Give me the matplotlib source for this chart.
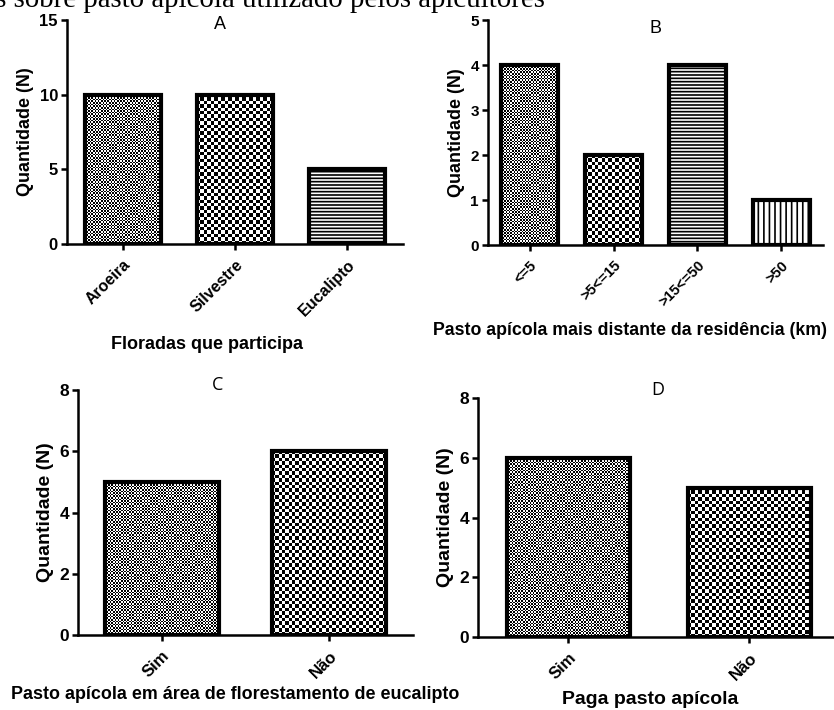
import numpy as np
import matplotlib
matplotlib.use("Agg")
import matplotlib.pyplot as plt

plt.rcParams['font.family'] = ['Liberation Sans', 'DejaVu Sans']
plt.rcParams['hatch.linewidth'] = 1.2

# data
cat_a = ["Aroeira", "Silvestre", "Eucalipto"]
val_a = [10, 10, 5]
cat_b = ["<=5", ">5<=15", ">15<=50", ">50"]
val_b = [4, 2, 4, 1]
cat_c = ["Sim", "Não"]
val_c = [5, 6]
cat_d = ["Sim", "Não"]
val_d = [6, 5]

# fill style per bar: fine checker, coarse checker, hatch
fill_a = ["fine", "coarse", "-----"]
fill_b = ["fine", "coarse", "-----", "|||"]
fill_c = ["fine", "coarse"]
fill_d = ["fine", "coarse"]

fig = plt.figure(figsize=(8.34, 7.10), dpi=100)

fig.text(545/834, 1 - 7/710, "Informações sobre pasto apícola utilizado pelos apicultores",
         ha='right', va='baseline', family='Liberation Serif', fontsize=20.8)


def checker(ax, patch, cell):
    bb = patch.get_window_extent()
    nx = max(1, int(round(bb.width / cell)))
    ny = max(1, int(round(bb.height / cell)))
    arr = np.add.outer(np.arange(ny), np.arange(nx)) % 2
    x0, y0 = patch.get_x(), patch.get_y()
    im = ax.imshow(arr, cmap='gray', vmin=0, vmax=1,
                   extent=(x0, x0 + patch.get_width(), y0, y0 + patch.get_height()),
                   interpolation='nearest', aspect='auto', zorder=1)
    im.set_clip_path(patch)


def panel(rect, cats, vals, fills, ymax, yticks, letter, xlabel,
          tick_fs, lab_fs, ylab_fs, letter_pos, letter_family, lab_x, lab_pad):
    ax = fig.add_axes(rect)
    x = np.arange(len(cats))
    ax.set_xlim(-0.5, len(cats) - 0.5)
    ax.set_ylim(0, ymax)
    bars = ax.bar(x, vals, width=0.68, facecolor='white', edgecolor='black',
                  linewidth=3, zorder=3)
    for b, f in zip(bars, fills):
        if f == "fine":
            b.set_facecolor('none')
            checker(ax, b, 1.6)
        elif f == "coarse":
            b.set_facecolor('none')
            checker(ax, b, 3.4)
        else:
            b.set_hatch(f)
    ax.set_xlim(-0.5, len(cats) - 0.5)
    ax.set_ylim(0, ymax)
    ax.set_yticks(yticks)
    ax.set_xticks(x)
    ax.set_xticklabels(cats, rotation=45, ha='right', rotation_mode='anchor',
                       fontsize=tick_fs, fontweight='bold')
    for t in ax.get_yticklabels():
        t.set_fontweight('bold')
        t.set_fontsize(tick_fs + 0.5)
    for s in ['top', 'right']:
        ax.spines[s].set_visible(False)
    for s in ['left', 'bottom']:
        ax.spines[s].set_linewidth(1.8)
    ax.tick_params(axis='both', direction='out', length=4.5, width=1.8, pad=2)
    ax.tick_params(axis='x', pad=5)
    ax.set_ylabel("Quantidade (N)", fontsize=ylab_fs, fontweight='bold', labelpad=4)
    ax.set_xlabel(xlabel, fontsize=lab_fs, fontweight='bold', labelpad=lab_pad)
    ax.xaxis.label.set_x(lab_x)
    ax.text(letter_pos[0], letter_pos[1], letter, transform=ax.transAxes,
            ha='center', va='center', fontsize=13, family=letter_family)
    return ax


panel([0.0803, 0.6563, 0.403, 0.3155], cat_a, val_a, fill_a, 15, [0, 5, 10, 15],
      "A", "Floradas que participa", 11.5, 13, 13, (0.455, 0.98), 'Liberation Sans',
      0.417, 12)
panel([0.5851, 0.6549, 0.4017, 0.3169], cat_b, val_b, fill_b, 5, [0, 1, 2, 3, 4, 5],
      "B", "Pasto apícola mais distante da residência (km)", 10.5, 12.8, 13,
      (0.50, 0.964), 'Liberation Sans', 0.424, 9)
panel([0.0935, 0.1056, 0.4017, 0.345], cat_c, val_c, fill_c, 8, [0, 2, 4, 6, 8],
      "C", "Pasto apícola em área de florestamento de eucalipto", 12, 12.9, 14,
      (0.418, 1.02), 'Open Sans', 0.47, 4)
panel([0.5731, 0.1028, 0.434, 0.3366], cat_d, val_d, fill_d, 8, [0, 2, 4, 6, 8],
      "D", "Paga pasto apícola", 12, 14, 14, (0.497, 1.033), 'Open Sans', 0.475, 6)

fig.savefig("out.png", dpi=100)
